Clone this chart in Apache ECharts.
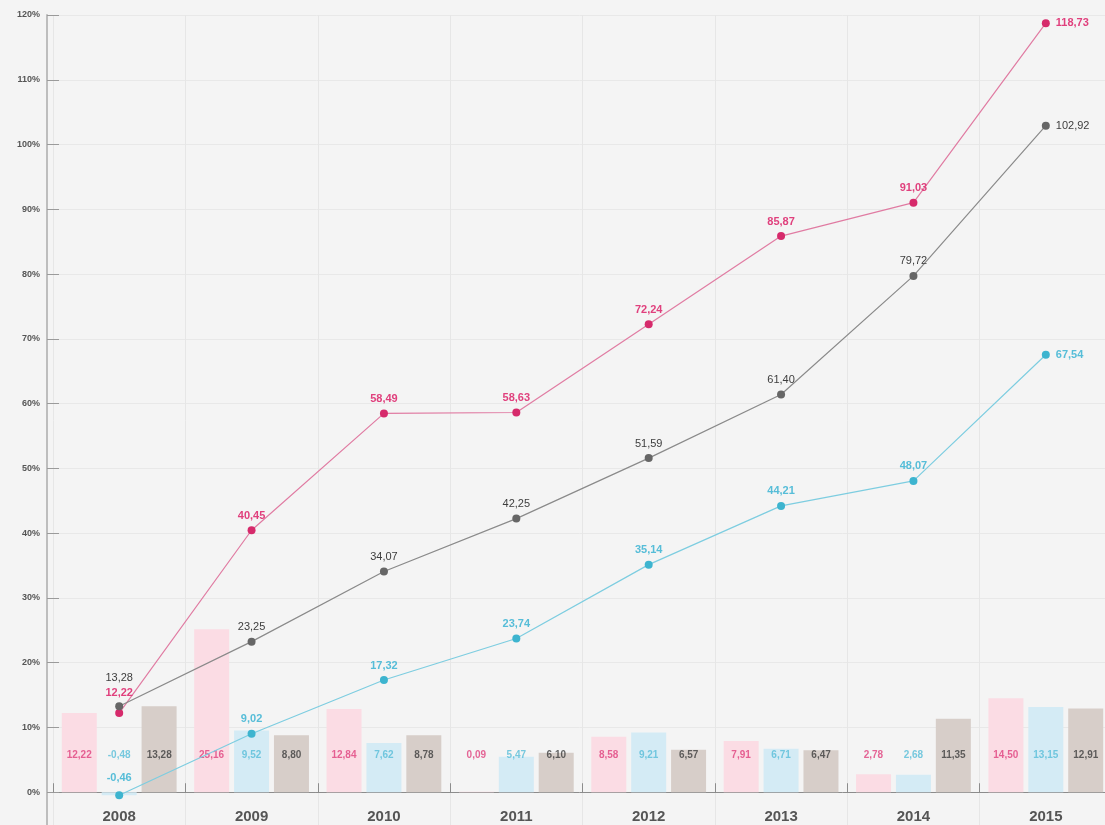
<!DOCTYPE html>
<html>
<head>
<meta charset="utf-8">
<script src="https://cdn.jsdelivr.net/npm/echarts@6/dist/echarts.min.js"></script>
<style>
html,body{margin:0;padding:0;background:#f4f4f4;}
#chart{width:1105px;height:825px;}
</style>
</head>
<body>
<div id="chart"></div>
<script>
const years = ['2008','2009','2010','2011','2012','2013','2014','2015'];
const barPink = [12.22, 25.16, 12.84, 0.09, 8.58, 7.91, 2.78, 14.50];
const barCyan = [-0.48, 9.52, 7.62, 5.47, 9.21, 6.71, 2.68, 13.15];
const barGray = [13.28, 8.80, 8.78, 6.10, 6.57, 6.47, 11.35, 12.91];
const linePink = [12.22, 40.45, 58.49, 58.63, 72.24, 85.87, 91.03, 118.73];
const lineCyan = [-0.46, 9.02, 17.32, 23.74, 35.14, 44.21, 48.07, 67.54];
const lineGray = [13.28, 23.25, 34.07, 42.25, 51.59, 61.40, 79.72, 102.92];
const yTicks = [0, 10, 20, 30, 40, 50, 60, 70, 80, 90, 100, 110, 120];

const fmt = v => v.toFixed(2).replace('.', ',');
const FONT = 'Liberation Sans, Arial, sans-serif';
const C = {
  pinkBar: '#fbdce4', cyanBar: '#d4ebf5', grayBar: '#d7cec9',
  pinkTxt: '#e0407d', cyanTxt: '#56bdd8', grayTxt: '#3d3d3d',
  pinkLine: '#e07ba2', cyanLine: '#7dcde0', grayLine: '#8a8a8a',
  pinkDot: '#d62a6b', cyanDot: '#3db4cf', grayDot: '#666666'
};
const LABEL_Y = 5.7;
const BAR_OFF = 40;

function barLabelSeries(vals, color, dx) {
  return {
    type: 'scatter', symbolSize: 0, silent: true, z: 5,
    data: vals.map((v, i) => [i, LABEL_Y, v]),
    label: {
      show: true, position: 'inside', offset: [dx, 0],
      formatter: p => fmt(p.value[2]),
      color: color, fontFamily: FONT, fontSize: 10, fontWeight: 'bold'
    }
  };
}

function lineSeries(vals, lineColor, dotColor, txtColor, firstOffset, bold) {
  return {
    type: 'line', z: 10, symbol: 'circle', symbolSize: 8,
    lineStyle: { color: lineColor, width: 1.2 },
    itemStyle: { color: dotColor },
    data: vals.map((v, i) => {
      const d = { value: v };
      if (i === 0) d.label = { offset: [0, firstOffset] };
      if (i === vals.length - 1) d.label = { position: 'right', distance: 6 };
      return d;
    }),
    label: {
      show: true, position: 'top', distance: 5,
      formatter: p => fmt(p.value),
      color: txtColor, fontFamily: FONT, fontSize: 11, fontWeight: bold ? 'bold' : 'normal'
    }
  };
}

const chart = echarts.init(document.getElementById('chart'));
chart.setOption({
  backgroundColor: '#f4f4f4',
  animation: false,
  grid: { left: 53, right: -7, top: 15, bottom: -32, containLabel: false, outerBoundsMode: 'none' },
  xAxis: {
    type: 'category', data: years, boundaryGap: true,
    axisLine: { onZero: true, lineStyle: { color: '#8c8c8c', width: 1 } },
    axisTick: { show: true, inside: true, length: 9, lineStyle: { color: '#8c8c8c' } },
    axisLabel: { margin: -48, color: '#555', fontFamily: FONT, fontSize: 15, fontWeight: 'bold' },
    splitLine: { show: true, lineStyle: { color: '#e6e6e6', width: 1 } }
  },
  yAxis: {
    type: 'value', min: -10, max: 120, interval: 10, offset: 6,
    axisLine: { show: true, lineStyle: { color: '#bdbdbd', width: 2 } },
    axisTick: { show: true, inside: true, length: 12, lineStyle: { color: '#9a9a9a' } },
    axisLabel: {
      margin: 7, color: '#555', fontFamily: FONT, fontSize: 9, fontWeight: 'bold',
      formatter: v => (yTicks.indexOf(v) >= 0 ? v + '%' : '')
    },
    splitLine: { show: true, lineStyle: { color: '#e8e8e8', width: 1 } }
  },
  series: [
    { type: 'bar', data: barPink, barWidth: 35, barGap: '14%', itemStyle: { color: C.pinkBar }, z: 2 },
    { type: 'bar', data: barCyan, barWidth: 35, barGap: '14%', itemStyle: { color: C.cyanBar }, z: 2 },
    { type: 'bar', data: barGray, barWidth: 35, barGap: '14%', itemStyle: { color: C.grayBar }, z: 2 },
    barLabelSeries(barPink, C.pinkTxt, -BAR_OFF),
    barLabelSeries(barCyan, C.cyanTxt, 0),
    barLabelSeries(barGray, C.grayTxt, BAR_OFF),
    lineSeries(linePink, C.pinkLine, C.pinkDot, C.pinkTxt, -6, true),
    lineSeries(lineCyan, C.cyanLine, C.cyanDot, C.cyanTxt, -3, true),
    lineSeries(lineGray, C.grayLine, C.grayDot, C.grayTxt, -14, false)
  ]
});
</script>
</body>
</html>
